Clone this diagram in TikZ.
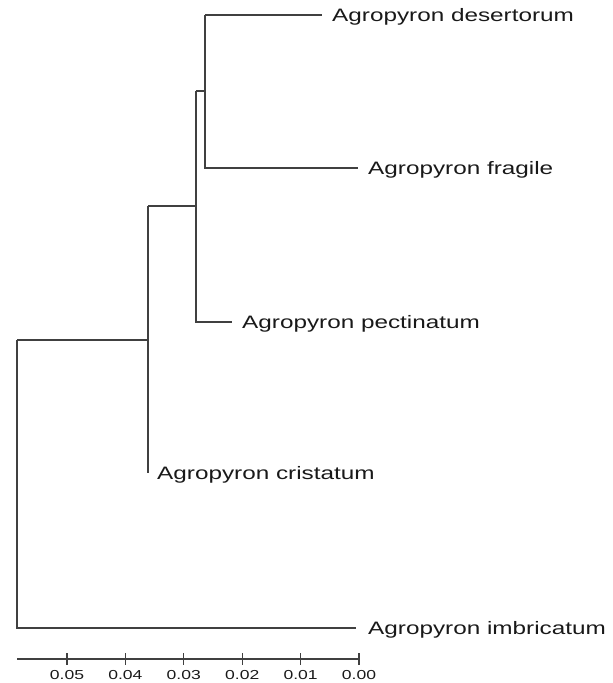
\documentclass[tikz,border=0pt]{standalone}
\usepackage{fontspec}
\usepackage{tikz}
\usetikzlibrary{positioning}
\newfontfamily\treefont[FakeStretch=1.35]{Liberation Sans}

\begin{document}
\begin{tikzpicture}[x=1pt,y=-1pt]
	\tikzstyle{branch} = [draw=black!75, line width=1.1pt]
	\tikzstyle{taxon} = [anchor=west, inner xsep=10pt, inner ysep=0pt, text height=13pt, text depth=0pt, text=black!90, font={\treefont\fontsize{18}{20}\selectfont}]
	\tikzstyle{scalelabel} = [text=black!90, inner sep=0pt, font={\treefont\fontsize{13}{15}\selectfont}]

	\useasboundingbox (0,0) rectangle (613,683);

	% inner nodes of the tree
	\coordinate (root) at (17,340);
	\coordinate (n1) at (148,206);
	\coordinate (n2) at (196,91);
	\coordinate (n3) at (205,15);

	% tips
	\node[taxon] (desertorum) at (322,15) {Agropyron desertorum};
	\node[taxon] (fragile) at (358,168) {Agropyron fragile};
	\node[taxon] (pectinatum) at (232,322) {Agropyron pectinatum};
	\node[taxon, inner xsep=9pt] (cristatum) at (148,473) {Agropyron cristatum};
	\node[taxon, inner xsep=12pt] (imbricatum) at (356,628) {Agropyron imbricatum};

	\path[branch] (root) -- (root -| n1)
	      (root) |- (imbricatum)
	      (n1) |- (cristatum)
	      (n1) -- (n1 -| n2)
	      (n2) |- (pectinatum)
	      (n2) -- (n2 -| n3)
	      (n3) |- (desertorum)
	      (n3) |- (fragile);

	% scale bar
	\coordinate (axisl) at (17,659);
	\coordinate (axisr) at (359,659);
	\draw[branch] (axisl) -- (axisr);
	\foreach \d in {0,...,5} {
		\coordinate (tick\d) at ({359-58.4*\d},659);
		\draw[branch] ([yshift=6pt]tick\d) -- ([yshift=-6pt]tick\d);
		\node[scalelabel] (lab\d) at ([yshift=-16pt]tick\d) {0.0\d};
	}
\end{tikzpicture}
\end{document}
